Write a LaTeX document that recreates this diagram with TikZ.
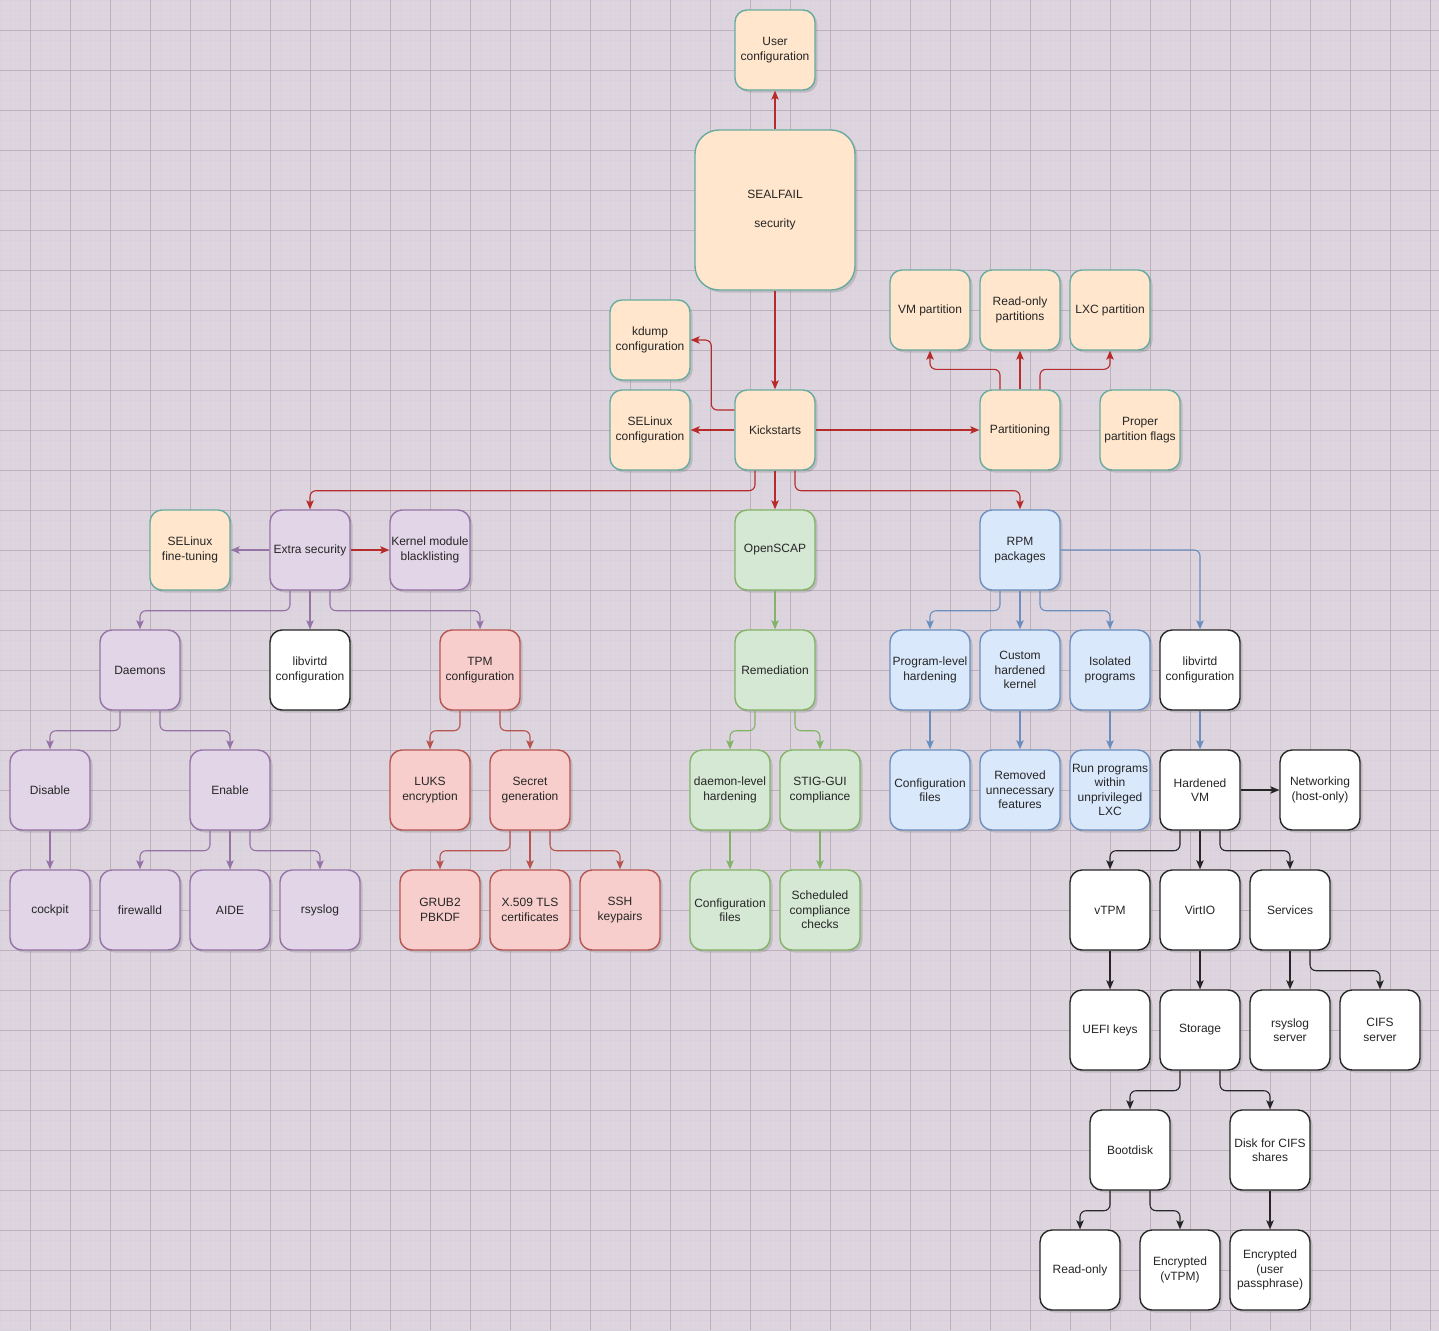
\documentclass[tikz,border=0pt]{standalone}
\usepackage{fontspec}
\setmainfont{Liberation Sans}
\usetikzlibrary{arrows.meta,shadows}
\definecolor{canvas}{RGB}{221,212,222}
\definecolor{gridminor}{RGB}{214,210,223}
\definecolor{gridmajor}{RGB}{186,176,190}
\definecolor{orfill}{HTML}{FFE6CC}
\definecolor{orline}{HTML}{67AB9F}
\definecolor{pufill}{HTML}{E1D5E7}
\definecolor{puline}{HTML}{9673A6}
\definecolor{refill}{HTML}{F8CECC}
\definecolor{reline}{HTML}{B85450}
\definecolor{grfill}{HTML}{D5E8D4}
\definecolor{grline}{HTML}{82B366}
\definecolor{blfill}{HTML}{DAE8FC}
\definecolor{blline}{HTML}{6C8EBF}
\definecolor{kickred}{HTML}{B82B2B}
\definecolor{inkgrey}{HTML}{262626}
\begin{document}
\begin{tikzpicture}
[
    x=1pt, y=-1pt,
    box/.style={draw, line width=1.4pt, rounded corners=12pt, minimum width=80pt, minimum height=80pt, inner sep=1pt, align=center, text=inkgrey, font=\fontsize{12}{14.5}\selectfont, drop shadow={shadow xshift=2.5pt, shadow yshift=-2.5pt, opacity=0.3}},
    orangebox/.style={box, fill=orfill, draw=orline},
    purplebox/.style={box, fill=pufill, draw=puline},
    redbox/.style={box, fill=refill, draw=reline},
    greenbox/.style={box, fill=grfill, draw=grline},
    bluebox/.style={box, fill=blfill, draw=blline},
    whitebox/.style={box, fill=white, draw=black!85},
    link/.style={line width=1.1pt, rounded corners=6pt, -{Stealth[length=9pt,width=7.5pt,inset=2pt]}},
    kicklink/.style={link, kickred},
    purplelink/.style={link, puline},
    redlink/.style={link, reline},
    greenlink/.style={link, grline},
    bluelink/.style={link, blline},
    blacklink/.style={link, black!85},
]
\useasboundingbox (0,0) rectangle (1439,1330);
\fill[canvas] (0,0) rectangle (1439,1330);
\draw[gridminor, line width=0.5pt] (0,0) grid[step=10pt] (1439,1330);
\foreach \g in {30,70,...,1430} \draw[gridmajor, line width=0.8pt] (\g,0) -- (\g,1330);
\foreach \g in {30,70,...,1310} \draw[gridmajor, line width=0.8pt] (0,\g) -- (1439,\g);

\node[orangebox] (user) at (775,50) {User\\configuration};
\node[orangebox, minimum width=160pt, minimum height=160pt, rounded corners=24pt] (sealfail) at (775,210) {SEALFAIL\\[14pt]security};
\node[orangebox] (kdump) at (650,340) {kdump\\configuration};
\node[orangebox] (selcfg) at (650,430) {SELinux\\configuration};
\node[orangebox] (kick) at (775,430) {Kickstarts};
\node[orangebox] (vmpart) at (930,310) {VM partition};
\node[orangebox] (ropart) at (1020,310) {Read-only\\partitions};
\node[orangebox] (lxcpart) at (1110,310) {LXC partition};
\node[orangebox] (part) at (1020,430) {Partitioning};
\node[orangebox] (flags) at (1140,430) {Proper\\partition flags};

\node[orangebox] (seltune) at (190,550) {SELinux\\fine-tuning};
\node[purplebox] (extra) at (310,550) {Extra security};
\node[purplebox] (kmod) at (430,550) {Kernel module\\blacklisting};
\node[greenbox] (openscap) at (775,550) {OpenSCAP};
\node[bluebox] (rpm) at (1020,550) {RPM\\packages};

\node[purplebox] (daemons) at (140,670) {Daemons};
\node[whitebox] (libvirtx) at (310,670) {libvirtd\\configuration};
\node[redbox] (tpm) at (480,670) {TPM\\configuration};
\node[greenbox] (remed) at (775,670) {Remediation};
\node[bluebox] (proglvl) at (930,670) {Program-level\\hardening};
\node[bluebox] (kernel) at (1020,670) {Custom\\hardened\\kernel};
\node[bluebox] (isolated) at (1110,670) {Isolated\\programs};
\node[whitebox] (libvirt) at (1200,670) {libvirtd\\configuration};

\node[purplebox] (disable) at (50,790) {Disable};
\node[purplebox] (enable) at (230,790) {Enable};
\node[redbox] (luks) at (430,790) {LUKS\\encryption};
\node[redbox] (secret) at (530,790) {Secret\\generation};
\node[greenbox] (daemonlvl) at (730,790) {daemon-level\\hardening};
\node[greenbox] (stig) at (820,790) {STIG-GUI\\compliance};
\node[bluebox] (cfgfiles) at (930,790) {Configuration\\files};
\node[bluebox] (removed) at (1020,790) {Removed\\unnecessary\\features};
\node[bluebox] (runlxc) at (1110,790) {Run programs\\within\\unprivileged\\LXC};
\node[whitebox] (hvm) at (1200,790) {Hardened\\VM};
\node[whitebox] (net) at (1320,790) {Networking\\(host-only)};

\node[purplebox] (cockpit) at (50,910) {cockpit};
\node[purplebox] (firewalld) at (140,910) {firewalld};
\node[purplebox] (aide) at (230,910) {AIDE};
\node[purplebox] (rsyslog) at (320,910) {rsyslog};
\node[redbox] (grub) at (440,910) {GRUB2\\PBKDF};
\node[redbox] (x509) at (530,910) {X.509 TLS\\certificates};
\node[redbox] (ssh) at (620,910) {SSH\\keypairs};
\node[greenbox] (scapfiles) at (730,910) {Configuration\\files};
\node[greenbox] (scheduled) at (820,910) {Scheduled\\compliance\\checks};
\node[whitebox] (vtpm) at (1110,910) {vTPM};
\node[whitebox] (virtio) at (1200,910) {VirtIO};
\node[whitebox] (services) at (1290,910) {Services};

\node[whitebox] (uefi) at (1110,1030) {UEFI keys};
\node[whitebox] (storage) at (1200,1030) {Storage};
\node[whitebox] (rsyslogsrv) at (1290,1030) {rsyslog\\server};
\node[whitebox] (cifs) at (1380,1030) {CIFS\\server};
\node[whitebox] (bootdisk) at (1130,1150) {Bootdisk};
\node[whitebox] (cifsdisk) at (1270,1150) {Disk for CIFS\\shares};
\node[whitebox] (readonly) at (1080,1270) {Read-only};
\node[whitebox] (encvtpm) at (1180,1270) {Encrypted\\(vTPM)};
\node[whitebox] (encuser) at (1270,1270) {Encrypted\\(user\\passphrase)};

\draw[kicklink] (sealfail.north) -- (user.south);
\draw[kicklink] (sealfail.south) -- (kick.north);
\draw[kicklink] ([yshift=20pt]kick.west) -- ++(-23,0) |- (kdump.east);
\draw[kicklink, line width=1.6pt] (kick.west) -- (selcfg.east);
\draw[kicklink] (kick.east) -- (part.west);
\draw[kicklink] ([xshift=-20pt]part.north) -- ++(0,-20) -| (vmpart.south);
\draw[kicklink] (part.north) -- (ropart.south);
\draw[kicklink] ([xshift=20pt]part.north) -- ++(0,-20) -| (lxcpart.south);
\draw[kicklink] ([xshift=-20pt]kick.south) -- ++(0,20) -| (extra.north);
\draw[kicklink] (kick.south) -- (openscap.north);
\draw[kicklink] ([xshift=20pt]kick.south) -- ++(0,20) -| (rpm.north);
\draw[kicklink] (extra.east) -- (kmod.west);

\draw[purplelink] (extra.west) -- (seltune.east);
\draw[purplelink] ([xshift=-20pt]extra.south) -- ++(0,20) -| (daemons.north);
\draw[purplelink] (extra.south) -- (libvirtx.north);
\draw[purplelink] ([xshift=20pt]extra.south) -- ++(0,20) -| (tpm.north);
\draw[purplelink] ([xshift=-20pt]daemons.south) -- ++(0,20) -| (disable.north);
\draw[purplelink] ([xshift=20pt]daemons.south) -- ++(0,20) -| (enable.north);
\draw[purplelink] (disable.south) -- (cockpit.north);
\draw[purplelink] ([xshift=-20pt]enable.south) -- ++(0,20) -| (firewalld.north);
\draw[purplelink] (enable.south) -- (aide.north);
\draw[purplelink] ([xshift=20pt]enable.south) -- ++(0,20) -| (rsyslog.north);

\draw[redlink] ([xshift=-20pt]tpm.south) -- ++(0,20) -| (luks.north);
\draw[redlink] ([xshift=20pt]tpm.south) -- ++(0,20) -| (secret.north);
\draw[redlink] ([xshift=-20pt]secret.south) -- ++(0,20) -| (grub.north);
\draw[redlink] (secret.south) -- (x509.north);
\draw[redlink] ([xshift=20pt]secret.south) -- ++(0,20) -| (ssh.north);

\draw[greenlink] (openscap.south) -- (remed.north);
\draw[greenlink] ([xshift=-20pt]remed.south) -- ++(0,20) -| (daemonlvl.north);
\draw[greenlink] ([xshift=20pt]remed.south) -- ++(0,20) -| (stig.north);
\draw[greenlink] (daemonlvl.south) -- (scapfiles.north);
\draw[greenlink] (stig.south) -- (scheduled.north);

\draw[bluelink] ([xshift=-20pt]rpm.south) -- ++(0,20) -| (proglvl.north);
\draw[bluelink] (rpm.south) -- (kernel.north);
\draw[bluelink] ([xshift=20pt]rpm.south) -- ++(0,20) -| (isolated.north);
\draw[bluelink] (rpm.east) -| (libvirt.north);
\draw[bluelink] (proglvl.south) -- (cfgfiles.north);
\draw[bluelink] (kernel.south) -- (removed.north);
\draw[bluelink] (isolated.south) -- (runlxc.north);
\draw[bluelink] (libvirt.south) -- (hvm.north);

\draw[blacklink] (hvm.east) -- (net.west);
\draw[blacklink] ([xshift=-20pt]hvm.south) -- ++(0,20) -| (vtpm.north);
\draw[blacklink] (hvm.south) -- (virtio.north);
\draw[blacklink] ([xshift=20pt]hvm.south) -- ++(0,20) -| (services.north);
\draw[blacklink] (vtpm.south) -- (uefi.north);
\draw[blacklink] (virtio.south) -- (storage.north);
\draw[blacklink] (services.south) -- (rsyslogsrv.north);
\draw[blacklink] ([xshift=20pt]services.south) -- ++(0,20) -| (cifs.north);
\draw[blacklink] ([xshift=-20pt]storage.south) -- ++(0,20) -| (bootdisk.north);
\draw[blacklink] ([xshift=20pt]storage.south) -- ++(0,20) -| (cifsdisk.north);
\draw[blacklink] ([xshift=-20pt]bootdisk.south) -- ++(0,20) -| (readonly.north);
\draw[blacklink] ([xshift=20pt]bootdisk.south) -- ++(0,20) -| (encvtpm.north);
\draw[blacklink] (cifsdisk.south) -- (encuser.north);
\end{tikzpicture}
\end{document}
